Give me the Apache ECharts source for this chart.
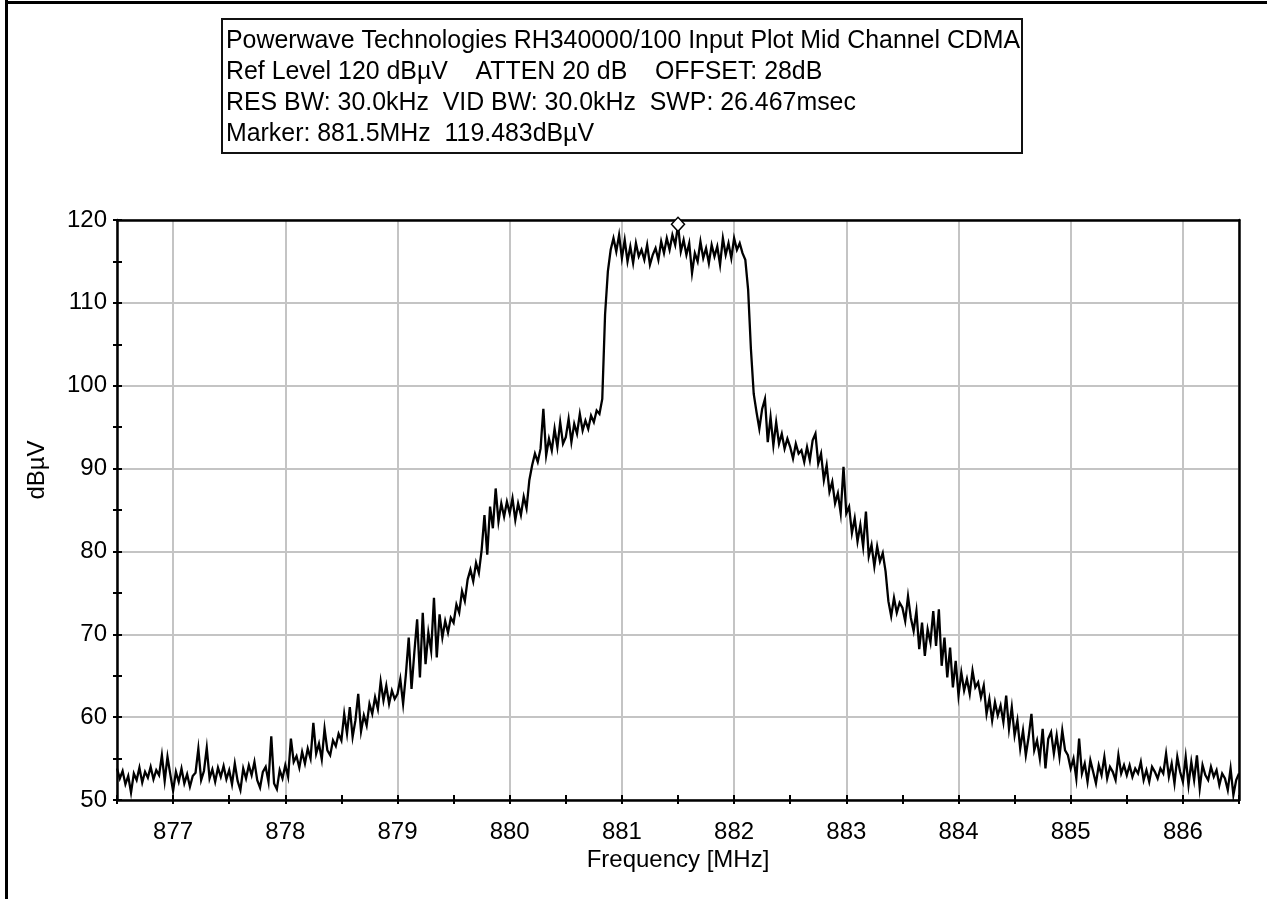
<!DOCTYPE html>
<html>
<head>
<meta charset="utf-8">
<script src="https://cdn.jsdelivr.net/npm/echarts@6/dist/echarts.min.js"></script>
<style>
html,body{margin:0;padding:0;background:#fff;}
#c{width:1267px;height:899px;}
</style>
</head>
<body>
<div id="c"></div>
<script>
// ---- chart text ----
const titleLines = [
  'Powerwave Technologies RH340000/100 Input Plot Mid Channel CDMA',
  'Ref Level 120 dB\u00b5V    ATTEN 20 dB    OFFSET: 28dB',
  'RES BW: 30.0kHz  VID BW: 30.0kHz  SWP: 26.467msec',
  'Marker: 881.5MHz  119.483dB\u00b5V'
];
const xAxisName = 'Frequency [MHz]';
const yAxisName = 'dB\u00b5V';

// ---- tick labels ----
const xTickLabels = [877, 878, 879, 880, 881, 882, 883, 884, 885, 886];
const yTickLabels = [50, 60, 70, 80, 90, 100, 110, 120];

// ---- sweep (analyzer trace sampled every 0.025 MHz from 876.5 MHz) ----
const freqStart = 876.5;
const freqStep = 0.025;
const level = [
  53.8, 52.6, 53.5, 51.9, 52.9, 50.9, 53.2, 52.4, 53.9, 52.1, 53.4, 52.7, 54.0, 52.5, 53.6, 53.0, 55.4, 52.3, 55.2, 53.1,
  51.1, 53.4, 52.2, 53.8, 52.0, 53.1, 51.6, 52.9, 53.3, 56.2, 52.4, 53.5, 56.3, 52.6, 53.7, 52.2, 53.9, 52.8, 54.1, 52.5,
  53.6, 51.9, 54.4, 52.3, 51.2, 53.8, 52.6, 54.2, 53.0, 54.6, 52.4, 51.5, 53.4, 54.0, 52.2, 57.7, 52.0, 51.3, 53.6, 52.6,
  54.2, 52.8, 57.4, 54.6, 55.3, 53.9, 55.8, 54.4, 56.2, 55.0, 59.3, 55.6, 56.8, 54.9, 58.6, 56.0, 55.4, 57.2, 56.5, 58.0,
  57.2, 60.4, 58.0, 61.2, 57.6, 59.6, 62.8, 58.3, 60.2, 59.0, 61.6, 60.4, 62.4, 61.0, 64.3, 62.0, 63.8, 61.6, 63.2, 62.2,
  62.8, 64.6, 61.6, 65.2, 69.6, 63.4, 67.8, 71.8, 64.8, 72.6, 66.4, 70.2, 68.0, 74.4, 67.2, 72.4, 69.6, 71.6, 70.2, 72.0,
  71.4, 73.6, 72.6, 75.2, 74.0, 76.6, 77.8, 76.4, 78.6, 77.4, 80.2, 84.4, 79.6, 85.4, 82.8, 87.6, 83.6, 85.8, 84.2, 86.0,
  84.6, 86.4, 83.8, 85.8, 84.4, 86.6, 85.2, 88.6, 90.4, 91.8, 90.8, 92.4, 97.2, 91.6, 93.6, 92.2, 94.8, 92.6, 95.6, 93.0,
  93.8, 96.0, 93.2, 95.4, 94.2, 96.6, 94.6, 95.8, 94.8, 96.4, 95.6, 97.0, 96.6, 98.4, 108.6, 113.8, 116.4, 117.8, 116.2, 118.2,
  115.4, 117.6, 115.0, 116.8, 114.8, 117.2, 115.6, 116.4, 115.2, 117.0, 114.6, 115.8, 116.6, 115.2, 117.4, 116.0, 117.8, 116.4, 118.2, 117.0,
  119.4, 116.2, 117.6, 115.8, 117.2, 113.6, 116.0, 115.0, 117.4, 115.4, 116.6, 114.8, 117.0, 115.6, 116.8, 114.6, 117.8, 115.8, 117.2, 115.4,
  117.8, 116.4, 117.2, 116.0, 115.2, 111.6, 104.4, 99.0, 96.8, 94.8, 97.2, 98.4, 93.2, 96.2, 92.8, 95.6, 93.0, 94.2, 92.4, 93.6,
  92.6, 91.2, 93.0, 91.8, 92.2, 90.8, 92.6, 91.0, 93.4, 94.2, 90.6, 91.8, 88.6, 90.4, 87.2, 88.4, 85.8, 87.0, 84.6, 90.2,
  84.6, 85.4, 82.2, 84.0, 81.2, 83.2, 80.6, 84.8, 79.4, 80.8, 78.2, 80.6, 78.8, 79.8, 77.6, 74.0, 72.2, 74.4, 72.6, 73.8,
  73.2, 71.6, 74.6, 72.0, 70.4, 72.8, 68.2, 71.4, 67.4, 70.6, 69.0, 72.8, 68.6, 73.0, 66.2, 69.6, 64.8, 68.4, 63.6, 66.8,
  62.6, 65.4, 63.2, 64.6, 62.8, 65.6, 63.6, 64.2, 62.4, 63.8, 60.4, 62.2, 59.6, 61.8, 60.2, 61.4, 59.4, 62.6, 58.6, 61.2,
  57.8, 59.6, 56.2, 58.4, 55.4, 57.6, 60.4, 56.0, 57.2, 55.0, 58.6, 53.8, 57.4, 58.2, 55.6, 57.8, 55.2, 58.4, 56.0, 55.4,
  53.8, 55.0, 52.6, 57.4, 53.2, 54.4, 52.2, 54.8, 53.4, 52.0, 54.2, 53.0, 55.2, 52.6, 54.0, 53.4, 52.4, 55.4, 53.2, 54.2,
  53.0, 54.2, 52.8, 53.8, 53.2, 54.6, 52.4, 53.6, 52.2, 54.0, 53.4, 52.6, 53.8, 53.2, 55.6, 52.8, 54.4, 52.0, 55.2, 53.4,
  52.2, 55.2, 51.8, 54.6, 52.4, 55.4, 51.4, 54.2, 53.0, 52.4, 54.0, 52.8, 53.6, 51.8, 53.2, 52.6, 51.2, 53.8, 50.6, 52.4,
  53.2
];

// ---- marker ----
const markerFreq = 881.5;
const markerLevel = 119.483;

// ---- axis ranges ----
const xMin = 876.5, xMax = 886.5;
const yMin = 50, yMax = 120;

const traceData = level.map((v, i) => [+(freqStart + i * freqStep).toFixed(3), v]);

const FONT = "'Liberation Sans', Arial, sans-serif";
const BLACK = '#000';
const GRID_GRAY = '#c4c4c4';

function isLabel(list, v) {
  return list.some(t => Math.abs(t - v) < 1e-6);
}

const chart = echarts.init(document.getElementById('c'), null, { renderer: 'canvas' });
chart.setOption({
  animation: false,
  backgroundColor: '#fff',
  title: {
    text: titleLines.join('\n'),
    left: 222,
    top: 19,
    padding: [7, 2, 3, 4],
    borderColor: '#111',
    borderWidth: 2,
    backgroundColor: '#fff',
    textStyle: { fontFamily: FONT, fontSize: 24.9, fontWeight: 'normal', color: BLACK, lineHeight: 31 }
  },
  graphic: [
    { type: 'rect', shape: { x: 5, y: 0, width: 3, height: 899 }, style: { fill: BLACK }, silent: true },
    { type: 'rect', shape: { x: 5, y: 1, width: 1262, height: 3 }, style: { fill: BLACK }, silent: true }
  ],
  grid: {
    left: 117, top: 220, right: 28, bottom: 99,
    show: false
  },
  xAxis: [
    {
      type: 'value', position: 'bottom', min: xMin, max: xMax, interval: 0.5, z: 2,
      name: xAxisName, nameLocation: 'middle', nameGap: 48, nameMoveOverlap: false,
      nameTextStyle: { fontFamily: FONT, fontSize: 24, color: BLACK },
      axisLine: { show: true, onZero: false, lineStyle: { color: BLACK, width: 2.5 } },
      axisTick: { show: true, inside: false, length: 4, lineStyle: { color: BLACK, width: 2 } },
      axisLabel: {
        show: true, margin: 20, hideOverlap: false, showMinLabel: true, showMaxLabel: true,
        fontFamily: FONT, fontSize: 24, color: BLACK,
        formatter: v => isLabel(xTickLabels, v) ? String(Math.round(v)) : ''
      },
      splitLine: { show: false }
    },
    {
      type: 'value', position: 'bottom', min: xMin, max: xMax, interval: 0.5, z: 2,
      axisLine: { show: false, onZero: false },
      axisTick: { show: true, inside: true, length: 5, lineStyle: { color: BLACK, width: 2 } },
      axisLabel: { show: false },
      splitLine: { show: false }
    },
    {
      type: 'value', position: 'bottom', min: xMin, max: xMax, splitNumber: 10, z: 0,
      axisLine: { show: false, onZero: false },
      axisTick: { show: false },
      axisLabel: { show: false },
      splitLine: { show: true, lineStyle: { color: GRID_GRAY, width: 2 } }
    },
    {
      type: 'value', position: 'top', min: xMin, max: xMax, z: 2,
      axisLine: { show: true, onZero: false, lineStyle: { color: BLACK, width: 2.5 } },
      axisTick: { show: false },
      axisLabel: { show: false },
      splitLine: { show: false }
    }
  ],
  yAxis: [
    {
      type: 'value', position: 'left', min: yMin, max: yMax, interval: 5, z: 2,
      name: yAxisName, nameLocation: 'middle', nameGap: 68, nameRotate: 90, nameMoveOverlap: false,
      nameTextStyle: { fontFamily: FONT, fontSize: 24, color: BLACK, padding: [0, 0, 0, 80] },
      axisLine: { show: true, onZero: false, lineStyle: { color: BLACK, width: 2.5 } },
      axisTick: { show: true, inside: false, length: 4, lineStyle: { color: BLACK, width: 2 } },
      axisLabel: {
        show: true, margin: 10, hideOverlap: false, showMinLabel: true, showMaxLabel: true,
        fontFamily: FONT, fontSize: 24, color: BLACK,
        formatter: v => isLabel(yTickLabels, v) ? String(Math.round(v)) : ''
      },
      splitLine: { show: false }
    },
    {
      type: 'value', position: 'left', min: yMin, max: yMax, interval: 5, z: 2,
      axisLine: { show: false, onZero: false },
      axisTick: { show: true, inside: true, length: 5, lineStyle: { color: BLACK, width: 2 } },
      axisLabel: { show: false },
      splitLine: { show: false }
    },
    {
      type: 'value', position: 'left', min: yMin, max: yMax, interval: 10, z: 0,
      axisLine: { show: false, onZero: false },
      axisTick: { show: false },
      axisLabel: { show: false },
      splitLine: { show: true, lineStyle: { color: GRID_GRAY, width: 2 } }
    },
    {
      type: 'value', position: 'right', min: yMin, max: yMax, z: 2,
      axisLine: { show: true, onZero: false, lineStyle: { color: BLACK, width: 2.5 } },
      axisTick: { show: false },
      axisLabel: { show: false },
      splitLine: { show: false }
    }
  ],
  series: [
    {
      type: 'line',
      xAxisIndex: 0, yAxisIndex: 0,
      data: traceData,
      showSymbol: false, symbol: 'none',
      lineStyle: { color: BLACK, width: 2.3, join: 'miter' },
      clip: true,
      z: 3,
      markPoint: {
        symbol: 'diamond', symbolSize: [13, 14],
        itemStyle: { color: '#fff', borderColor: BLACK, borderWidth: 1.5 },
        label: { show: false },
        data: [{ coord: [markerFreq, markerLevel] }]
      }
    }
  ]
});
</script>
</body>
</html>
